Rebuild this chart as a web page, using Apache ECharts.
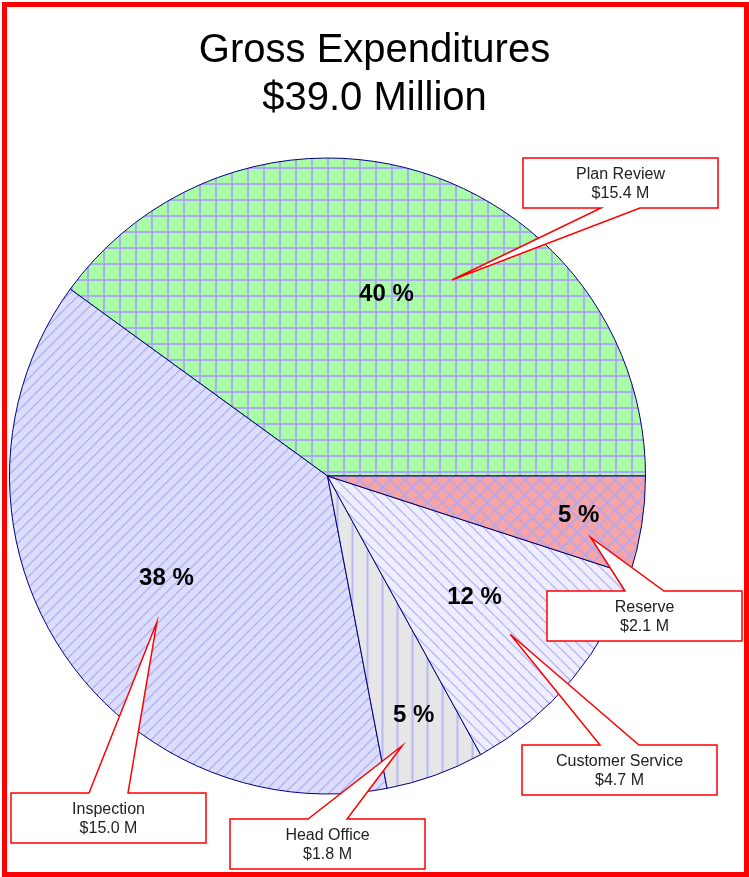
<!DOCTYPE html>
<html>
<head>
<meta charset="utf-8">
<script src="https://cdn.jsdelivr.net/npm/echarts@6/dist/echarts.min.js"></script>
<style>
  html, body { margin: 0; padding: 0; background: #fff; }
  #main { width: 749px; height: 877px; }
</style>
</head>
<body>
<div id="main"></div>
<script>
// data
var categories = ['Plan Review', 'Inspection', 'Head Office', 'Customer Service', 'Reserve']
var shares = [40, 38, 5, 12, 5]            // slice size (%), as drawn
var amounts = [15.4, 15.0, 1.8, 4.7, 2.1]  // $ M, shown in the callouts
var totalAmount = 39.0
var titleLines = ['Gross Expenditures', '$' + totalAmount.toFixed(1) + ' Million']

// layout
var CX = 327.5, CY = 476, R = 318
var FONT = '"Liberation Sans", Arial, Helvetica, sans-serif'
var pctRadius = [0.6, 0.6, 0.8, 0.6, 0.8]   // where the % text sits (fraction of R)
// callout tip: [fraction through the slice, fraction of R]
var tipSpot = [[0.40, 0.73], [0.56, 0.707], [0.26, 0.88], [0.47, 0.76], [0.27, 0.85]]
// callout box: [left, top, side the pointer leaves from]
var boxPos = [[523, 158, 'bottom'], [11, 793, 'top'], [230, 819, 'top'], [522, 745, 'top'], [547, 591, 'top']]
var BOX_W = 195, BOX_H = 50

// fill patterns
function makeTile(size, bg, fg, width, draw) {
  var c = document.createElement('canvas')
  c.width = size
  c.height = size
  var ctx = c.getContext('2d')
  ctx.fillStyle = bg
  ctx.fillRect(0, 0, size, size)
  ctx.strokeStyle = fg
  ctx.lineWidth = width
  ctx.beginPath()
  draw(ctx, size)
  ctx.stroke()
  return c
}
function gridLines(ctx, s) {
  ctx.moveTo(s / 2, 0); ctx.lineTo(s / 2, s)
  ctx.moveTo(0, s / 2); ctx.lineTo(s, s / 2)
}
function slashLines(ctx, s) {
  for (var k = -1; k <= 1; k++) { ctx.moveTo(k * s, s); ctx.lineTo(k * s + s, 0) }
}
function backLines(ctx, s) {
  for (var k = -1; k <= 1; k++) { ctx.moveTo(k * s, 0); ctx.lineTo(k * s + s, s) }
}
function vertLines(ctx, s) {
  ctx.moveTo(s / 2, 0); ctx.lineTo(s / 2, s)
}
function crossLines(ctx, s) {
  slashLines(ctx, s)
  backLines(ctx, s)
}
var patterns = [
  makeTile(16, '#a8fca8', '#aeaaf2', 2, gridLines),
  makeTile(11, '#dcdcfc', '#b2b2f2', 1.4, slashLines),
  makeTile(15, '#e6e6e6', '#b8b8f6', 2, vertLines),
  makeTile(11, '#eeeefe', '#b8b8f6', 1.4, backLines),
  makeTile(15, '#f8a4a4', '#b4a8ee', 1.8, crossLines)
].map(function (c) { return { image: c, repeat: 'repeat' } })

function sliceAngles(i) {
  var sum = 0, before = 0
  for (var k = 0; k < shares.length; k++) {
    if (k < i) before += shares[k]
    sum += shares[k]
  }
  return [before / sum * 360, (before + shares[i]) / sum * 360]
}
function polar(deg, rf) {
  var a = deg * Math.PI / 180
  return [CX + rf * R * Math.cos(a), CY - rf * R * Math.sin(a)]
}

// callout shapes (box + pointer) built from the slice angles
function callout(i) {
  var a = sliceAngles(i)
  var tip = polar(a[0] + tipSpot[i][0] * (a[1] - a[0]), tipSpot[i][1])
  var x = boxPos[i][0], y = boxPos[i][1]
  var p1 = x + 78, p2 = x + 117
  var pts
  if (boxPos[i][2] === 'top') {
    pts = [[x, y], [p1, y], tip, [p2, y], [x + BOX_W, y], [x + BOX_W, y + BOX_H], [x, y + BOX_H]]
  } else {
    pts = [[x, y], [x + BOX_W, y], [x + BOX_W, y + BOX_H], [p2, y + BOX_H], tip, [p1, y + BOX_H], [x, y + BOX_H]]
  }
  return [{
    type: 'polygon',
    z: 10,
    silent: true,
    shape: { points: pts },
    style: { fill: '#fff', stroke: '#ff0000', lineWidth: 1.5, lineJoin: 'miter' }
  }, {
    type: 'text',
    z: 11,
    silent: true,
    x: x + BOX_W / 2,
    y: y + BOX_H / 2 + 1,
    style: {
      text: categories[i] + '\n$' + amounts[i].toFixed(1) + ' M',
      fill: '#222',
      fontSize: 16,
      fontFamily: FONT,
      lineHeight: 19.5,
      align: 'center',
      verticalAlign: 'middle',
      textAlign: 'center',
      textVerticalAlign: 'middle'
    }
  }]
}

var graphics = [{
  type: 'rect',
  z: 20,
  silent: true,
  shape: { x: 4.5, y: 4.5, width: 742, height: 870 },
  style: { fill: 'none', stroke: '#ff0000', lineWidth: 5 }
}]
categories.forEach(function (n, i) { graphics = graphics.concat(callout(i)) })

var chart = echarts.init(document.getElementById('main'), null, { renderer: 'canvas' })
chart.setOption({
  animation: false,
  backgroundColor: '#fff',
  title: {
    text: titleLines.join('\n'),
    left: 'center',
    top: 22,
    textStyle: {
      fontSize: 40,
      lineHeight: 48,
      fontWeight: 'normal',
      fontFamily: FONT,
      color: '#000'
    }
  },
  series: [{
    type: 'pie',
    center: [CX, CY],
    radius: R,
    startAngle: 0,
    clockwise: false,
    silent: true,
    avoidLabelOverlap: false,
    emphasis: { disabled: true },
    itemStyle: { borderColor: '#000080', borderWidth: 1 },
    label: {
      show: true,
      position: 'inside',
      formatter: function (p) { return Math.round(p.percent) + ' %' },
      fontFamily: FONT,
      fontSize: 24,
      fontWeight: 'bold',
      color: '#000'
    },
    labelLine: { show: false },
    labelLayout: function (p) {
      var a = sliceAngles(p.dataIndex)
      var pt = polar((a[0] + a[1]) / 2, pctRadius[p.dataIndex])
      return { x: pt[0], y: pt[1], align: 'center', verticalAlign: 'middle' }
    },
    data: categories.map(function (n, i) {
      return { name: n, value: shares[i], itemStyle: { color: patterns[i] } }
    })
  }],
  graphic: graphics
})
</script>
</body>
</html>
